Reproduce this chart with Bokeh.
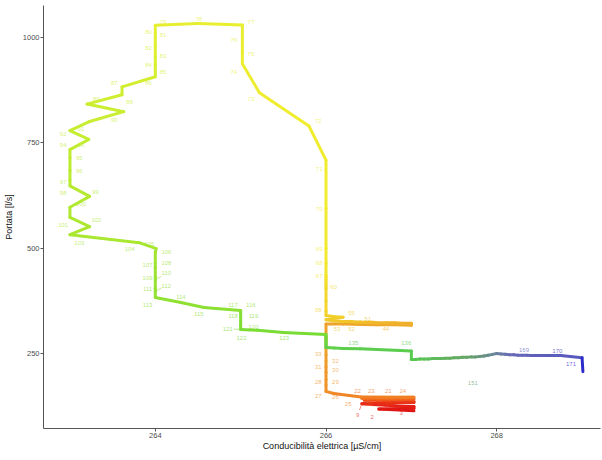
from bokeh.plotting import figure
from bokeh.models import FixedTicker, ColumnDataSource
from bokeh.core.properties import value
from bokeh.embed import file_html
from bokeh.resources import INLINE

# ---- data ----
indice = list(range(1, 172))

conducibilita = [
    267.03, 266.62, 267.03, 267.03, 266.90, 266.80, 266.70, 266.55, 266.42, 266.60,
    266.80, 267.03, 267.03, 266.90, 266.75, 266.60, 266.45, 266.60, 266.80, 267.03,
    266.80, 266.42, 266.60, 267.03, 266.41, 266.09, 266.00, 266.00, 266.00, 266.00,
    266.00, 266.00, 266.00, 266.00, 266.00, 266.20, 266.40, 266.60, 266.80, 267.00,
    267.00, 266.90, 266.80, 266.70, 266.60, 266.55, 266.50, 266.45, 266.40, 266.35,
    266.30, 266.20, 266.10, 266.00, 266.20, 266.10, 266.00, 266.00, 266.00, 266.00,
    266.00, 266.00, 266.00, 266.00, 266.00, 266.00, 266.00, 266.00, 266.00, 266.00,
    266.00, 265.80, 265.22, 265.02, 265.02, 265.02, 265.02, 264.50, 264.00, 264.00,
    264.00, 264.00, 264.00, 264.00, 264.00, 264.00, 263.61, 263.61, 263.20, 263.63,
    263.22, 263.00, 263.22, 263.00, 263.00, 263.00, 263.00, 263.00, 263.23, 263.00,
    263.00, 263.23, 263.00, 263.81, 264.01, 264.00, 264.00, 264.00, 264.00, 264.00,
    264.00, 264.00, 264.00, 264.30, 264.57, 265.00, 265.00, 265.00, 265.00, 265.00,
    265.00, 265.20, 265.50, 266.00, 266.00, 266.00, 266.00, 266.00, 266.00, 266.00,
    266.00, 266.00, 266.10, 266.20, 266.40, 267.00, 267.00, 267.05, 267.10, 267.15,
    267.20, 267.25, 267.30, 267.35, 267.40, 267.45, 267.50, 267.55, 267.60, 267.65,
    267.70, 267.75, 267.80, 267.85, 267.90, 267.95, 268.00, 268.05, 268.10, 268.15,
    268.20, 268.25, 268.30, 268.35, 268.40, 268.45, 268.50, 268.60, 268.75, 269.00,
    269.01,
]

portata = [
    114, 118, 120, 124, 125, 126, 127, 129, 131, 132,
    133, 134, 136, 137, 138, 139, 139, 140, 141, 142,
    143, 144, 145, 146, 147, 155, 160, 175, 188, 205,
    218, 232, 247, 290, 320, 320, 319, 318, 318, 317,
    322, 322, 323, 323, 323, 324, 324, 324, 325, 325,
    326, 326, 327, 330, 336, 337, 340, 350, 375, 405,
    410, 415, 420, 425, 430, 433, 437, 465, 500, 595,
    709, 790, 869, 938, 965, 995, 1030, 1033, 1029, 1012,
    1000, 978, 955, 934, 918, 907, 883, 864, 842, 824,
    800, 779, 758, 734, 715, 685, 662, 648, 623, 597,
    573, 551, 532, 513, 499, 490, 465, 455, 432, 425,
    405, 398, 383, 371, 359, 352, 347, 337, 328, 318,
    307, 305, 300, 295, 290, 286, 282, 278, 274, 270,
    266, 264, 263, 262, 261, 256, 236, 236, 237, 237,
    237, 238, 238, 238, 239, 239, 240, 240, 241, 241,
    242, 242, 243, 244, 246, 248, 250, 249, 248, 247,
    247, 246, 246, 246, 245, 245, 245, 245, 245, 240,
    207,
]

# labels that are visible in the picture, and where they sit (data units)
etichette = [2, 3, 9, 15, 20, 21, 22, 23, 24, 25, 26, 27, 28, 29, 30, 31, 32, 33,
             44, 51, 52, 53, 55, 58, 60, 67, 68, 69, 70, 71, 72, 73, 74, 75, 76, 77,
             78, 79, 80, 81, 82, 83, 84, 85, 86, 87, 88, 89, 90, 91, 92, 93, 94, 95,
             96, 97, 98, 99, 100, 101, 102, 103, 104, 105, 106, 107, 108, 109, 110,
             111, 112, 113, 114, 115, 116, 117, 118, 119, 120, 121, 122, 123, 135,
             136, 151, 169, 170, 171]
etichette_x = [266.54, 266.88, 266.37, 266.73, 266.51, 266.73, 266.37, 266.53, 266.90, 266.26,
               266.11, 265.91, 265.91, 266.11, 266.11, 265.91, 266.11, 265.91,
               266.70, 266.49, 266.30, 266.13, 266.30, 265.91, 266.09, 265.92, 265.92,
               265.92, 265.92, 265.92, 265.91, 265.12, 264.92, 265.12, 264.92, 265.12,
               264.51, 264.09, 263.92, 264.09, 263.92, 264.09, 263.92, 264.09, 263.92,
               263.52, 263.70, 263.31, 263.52, 263.13, 262.92, 263.13, 262.92, 263.11,
               263.11, 262.92, 262.92, 263.30, 263.13, 262.92, 263.31, 263.11, 263.70,
               263.93, 264.13, 263.91, 264.13, 263.91, 264.13, 263.91, 264.13, 263.91,
               264.30, 264.51, 265.12, 264.91, 264.91, 265.15, 265.15, 264.85, 265.01,
               265.51, 266.32, 266.94, 267.72, 268.32, 268.71, 268.87]
etichette_y = [100, 108, 103, 129, 129, 162, 162, 162, 162, 131,
               146, 150, 183, 183, 210, 217, 233, 248,
               309, 333, 307, 307, 347, 354, 409, 435, 464,
               499, 594, 689, 801, 853, 919, 962, 995, 1038,
               1043, 1036, 1012, 1007, 976, 955, 934, 917, 891,
               893, 846, 855, 805, 784, 772, 744, 744, 715,
               682, 656, 630, 634, 604, 556, 566, 513, 497,
               511, 490, 461, 464, 430, 440, 402, 411, 366,
               383, 343, 366, 366, 338, 338, 312, 309, 286,
               286, 274, 274, 179, 259, 257, 224]
con_segno = [9, 110, 112, 121]   # labels drawn with a short leader line

x_ticks = [264, 266, 268]
y_ticks = [250, 500, 750, 1000]
titolo_x = "Conducibilità elettrica [µS/cm]"
titolo_y = "Portata [l/s]"

# ---- colour along the sequence ----
stops = [(1, "#e01414"), (12, "#ea3218"), (22, "#f2701e"), (27, "#f0922a"),
         (33, "#eea02c"), (45, "#f0b82a"), (58, "#f2d42a"), (70, "#f2ec2e"),
         (80, "#e2f030"), (95, "#bcec30"), (110, "#98e232"), (123, "#78dc34"),
         (136, "#58cc50"), (150, "#66a468"), (156, "#6a8896"), (160, "#6a6ab6"),
         (169, "#5a5abe"), (170, "#2c2cc8"), (171, "#1c1cd0")]


def hex2rgb(h):
    return tuple(int(h[i:i + 2], 16) for i in (1, 3, 5))


def colore(i):
    for (a, ca), (b, cb) in zip(stops[:-1], stops[1:]):
        if a <= i <= b:
            t = (i - a) / (b - a) if b > a else 0
            r0, g0, b0 = hex2rgb(ca)
            r1, g1, b1 = hex2rgb(cb)
            return "#%02x%02x%02x" % (round(r0 + (r1 - r0) * t),
                                      round(g0 + (g1 - g0) * t),
                                      round(b0 + (b1 - b0) * t))
    return stops[-1][1]


colori = [colore(i) for i in indice]

FONT = "Liberation Sans"

p = figure(width=602, height=460, x_range=(262.69, 269.216), y_range=(72, 1076),
           output_backend="svg", toolbar_location=None,
           min_border_left=42, min_border_right=2, min_border_top=5, min_border_bottom=32)
p.grid.visible = False
p.outline_line_color = None
p.background_fill_color = "white"
p.border_fill_color = "white"

seg = ColumnDataSource(dict(x0=conducibilita[:-1], y0=portata[:-1],
                            x1=conducibilita[1:], y1=portata[1:], c=colori[:-1]))
p.segment("x0", "y0", "x1", "y1", source=seg, line_color="c", line_width=3,
          line_cap="round")

# leader lines
lx0, ly0, lx1, ly1, lc = [], [], [], [], []
for n, xx, yy in zip(etichette, etichette_x, etichette_y):
    if n in con_segno:
        px, py = conducibilita[n - 1], portata[n - 1]
        lx0.append(xx + (px - xx) * 0.45)
        ly0.append(yy + (py - yy) * 0.45)
        lx1.append(px)
        ly1.append(py)
        lc.append(colori[n - 1])
p.segment(lx0, ly0, lx1, ly1, line_color=lc, line_width=0.8, line_alpha=0.7)

lab = ColumnDataSource(dict(x=etichette_x, y=etichette_y,
                            t=[str(n) for n in etichette],
                            c=[colori[n - 1] for n in etichette]))
p.text("x", "y", text="t", source=lab, text_color="c", text_alpha=0.7,
       text_font_size="6px", text_align="center", text_baseline="middle",
       text_font=value(FONT))

for ax, ticks in ((p.xaxis, x_ticks), (p.yaxis, y_ticks)):
    ax.ticker = FixedTicker(ticks=ticks)
    ax.axis_line_color = "#555555"
    ax.major_tick_line_color = "#555555"
    ax.major_tick_out = 3
    ax.major_tick_in = 0
    ax.minor_tick_out = 0
    ax.minor_tick_in = 0
    ax.major_label_text_font = FONT
    ax.major_label_text_font_size = "7.5px"
    ax.major_label_text_color = "#4d4d4d"
    ax.major_label_standoff = 1
    ax.axis_label_text_font = FONT
    ax.axis_label_text_font_size = "9px"
    ax.axis_label_text_font_style = "normal"
    ax.axis_label_text_color = "#111111"

p.xaxis.axis_label_standoff = 0
p.yaxis.axis_label_standoff = 6
p.xaxis.axis_label = titolo_x
p.yaxis.axis_label = titolo_y

open("out.html", "w").write(file_html(p, INLINE))
